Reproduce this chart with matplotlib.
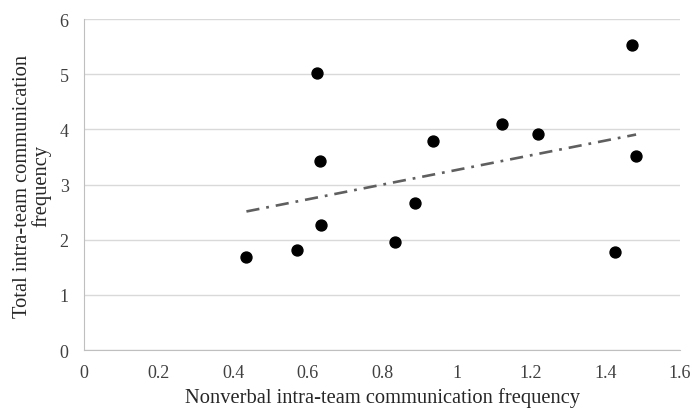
import numpy as np
import matplotlib
matplotlib.use("Agg")
import matplotlib.pyplot as plt

plt.rcParams['font.family'] = ['Liberation Serif', 'DejaVu Serif']
plt.rcParams['lines.scale_dashes'] = False

# nonverbal vs total intra-team communication frequency, one point per team
nonverbal = [0.436, 0.571, 0.625, 0.634, 0.636, 0.835, 0.889, 0.938,
             1.123, 1.220, 1.426, 1.470, 1.482]
total = [1.68, 1.82, 5.03, 3.43, 2.27, 1.95, 2.67, 3.78,
         4.10, 3.92, 1.78, 5.53, 3.51]

x_ticks = [0, 0.2, 0.4, 0.6, 0.8, 1, 1.2, 1.4, 1.6]
x_tick_labels = ["0", "0.2", "0.4", "0.6", "0.8", "1", "1.2", "1.4", "1.6"]
y_ticks = [0, 1, 2, 3, 4, 5, 6]

fig = plt.figure(figsize=(6.92, 4.10), dpi=100)
ax = fig.add_axes([0.1214, 0.1439, 0.8613, 0.8073])

ax.scatter(nonverbal, total, s=62, color='black', zorder=3)

# linear trendline over the data range
slope, intercept = np.polyfit(nonverbal, total, 1)
xs = np.array([min(nonverbal), max(nonverbal)])
ax.plot(xs, slope * xs + intercept, color='#5f5f5f', linewidth=1.9,
        linestyle=(0, (9.5, 5, 2, 5)), zorder=2)

ax.set_xlim(0, 1.6)
ax.set_ylim(0, 6)
ax.set_xticks(x_ticks)
ax.set_xticklabels(x_tick_labels)
ax.set_yticks(y_ticks)
ax.tick_params(length=0, labelsize=13, colors='#404040')
ax.tick_params(axis='x', pad=10)
ax.tick_params(axis='y', pad=11)
ax.grid(axis='y', color='#d9d9d9', linewidth=1)
ax.set_axisbelow(True)

for side in ['top', 'right']:
    ax.spines[side].set_visible(False)
ax.spines['left'].set_color('#bfbfbf')
ax.spines['bottom'].set_color('#bfbfbf')

fig.text(0.5524, 12 / 410, "Nonverbal intra-team communication frequency",
         fontsize=14.8, color='#262626', ha='center', va='center')
fig.text(32 / 692, 0.546, "Total intra-team communication\nfrequency",
         fontsize=14.8, color='#262626', ha='center', va='center',
         rotation=90, linespacing=0.95, multialignment='center')

fig.savefig("out.png", dpi=100)
